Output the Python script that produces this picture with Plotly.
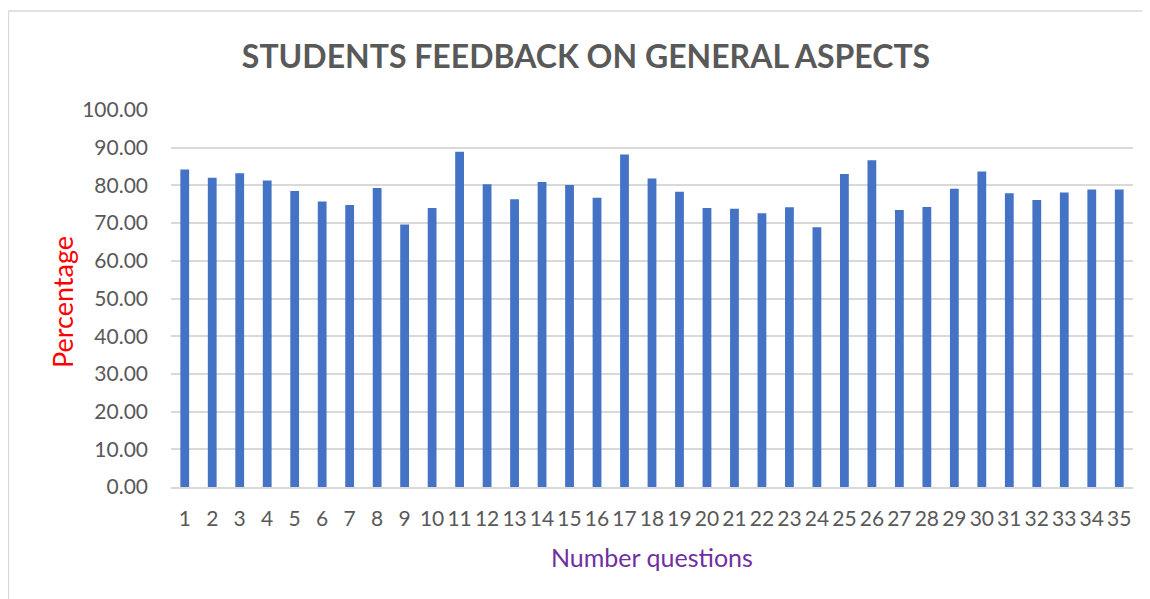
import plotly.graph_objects as go

questions = [str(i) for i in range(1, 36)]
percentages = [84.2, 82.0, 83.2, 81.3, 78.5, 75.7, 74.8, 79.3, 69.6, 74.0,
               88.9, 80.3, 76.3, 80.9, 80.1, 76.7, 88.2, 81.8, 78.3, 74.0,
               73.8, 72.6, 74.2, 68.9, 83.0, 86.7, 73.5, 74.3, 79.1, 83.7,
               77.9, 76.1, 78.1, 78.9, 78.9]
y_ticks = [0, 10, 20, 30, 40, 50, 60, 70, 80, 90, 100]

# page body has an 8px margin, so the figure is laid out 8px smaller
W, H = 1142, 591
L, R, T, B = 163, 17, 102, 112
PW, PH = W - L - R, H - T - B


def px(x):
    return (x - L) / PW


def py(y):
    return (H - B - y) / PH


fig = go.Figure(go.Bar(x=questions, y=percentages, marker_color="#4472C4",
                       marker_line_width=0, width=0.32))

fig.update_layout(
    width=W, height=H,
    margin=dict(l=L, r=R, t=T, b=B),
    paper_bgcolor="white", plot_bgcolor="white",
    font=dict(family="Lato", color="#595959"),
    title=dict(text="<b>STUDENTS FEEDBACK ON GENERAL ASPECTS</b>",
               x=578 / W, xanchor="center", y=1 - 49 / H, yanchor="middle",
               font=dict(size=32, color="#595959", family="Lato")),
    showlegend=False,
)
fig.update_yaxes(range=[0, 100], tickvals=y_ticks,
                 ticktext=[f"{v:.2f}" for v in y_ticks],
                 showgrid=True, gridcolor="#D9D9D9", gridwidth=1.5,
                 zeroline=False, showline=False,
                 tickfont=dict(size=21, color="#595959"), ticks="", ticklabelstandoff=22)
fig.update_xaxes(showgrid=False, showline=True, linecolor="#D9D9D9", linewidth=1.5,
                 tickfont=dict(size=21, color="#595959"), ticks="", ticklabelstandoff=12)

fig.add_annotation(text="Percentage", xref="paper", yref="paper",
                   x=px(54), y=py(294), xanchor="center", yanchor="middle",
                   textangle=-90, showarrow=False,
                   font=dict(size=27, color="#FF0000", family="Lato"))
fig.add_annotation(text="Number questions", xref="paper", yref="paper",
                   x=px(644), y=py(549), xanchor="center", yanchor="middle",
                   showarrow=False,
                   font=dict(size=25, color="#7030A0", family="Lato"))

# chart frame (left and top edges)
fig.add_shape(type="line", xref="paper", yref="paper",
              x0=px(0.5), x1=px(0.5), y0=py(3), y1=py(H + 5),
              line=dict(color="#D9D9D9", width=1.3))
fig.add_shape(type="line", xref="paper", yref="paper",
              x0=px(0.5), x1=px(W + 5), y0=py(3), y1=py(3),
              line=dict(color="#D9D9D9", width=1.3))

fig.write_html("out.html")
